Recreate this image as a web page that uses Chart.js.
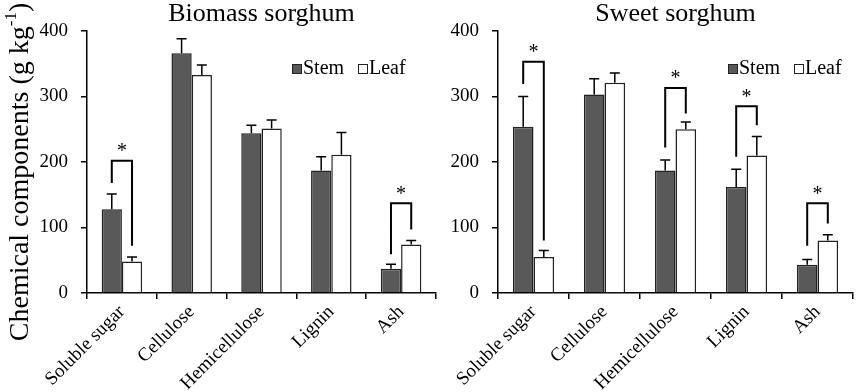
<!DOCTYPE html>
<html>
<head>
<meta charset="utf-8">
<script src="https://cdn.jsdelivr.net/npm/chart.js@4.4.0/dist/chart.umd.min.js"></script>
<style>
  body { margin: 0; background: #fff; }
  #wrap { position: relative; width: 856px; height: 392px; }
  #leftBox { position: absolute; left: 0; top: 0; width: 440px; height: 392px; }
  #rightBox { position: absolute; left: 440px; top: 0; width: 416px; height: 392px; }
</style>
</head>
<body>
<div id="wrap">
  <div id="leftBox"><canvas id="biomassChart"></canvas></div>
  <div id="rightBox"><canvas id="sweetChart"></canvas></div>
</div>
<script>
var categories = ['Soluble sugar', 'Cellulose', 'Hemicellulose', 'Lignin', 'Ash'];
var yTicks = [0, 100, 200, 300, 400];

// Biomass sorghum
var biomassStem = [128, 366, 244, 187, 37];
var biomassStemErr = [23, 22, 12, 21, 7];
var biomassLeaf = [48, 333, 251, 211, 74];
var biomassLeafErr = [7, 15, 13, 34, 6];
var biomassSigCats = [0, 4];
var biomassSigTop = [202, 137];
var biomassSigStemEnd = [168, 59];
var biomassSigLeafEnd = [72, 97];

// Sweet sorghum
var sweetStem = [254, 303, 187, 162, 43];
var sweetStemErr = [46, 24, 16, 27, 8];
var sweetLeaf = [55, 321, 250, 210, 80];
var sweetLeafErr = [10, 15, 11, 29, 9];
var sweetSigCats = [0, 2, 3, 4];
var sweetSigTop = [353, 313, 285, 137];
var sweetSigStemEnd = [319, 222, 208, 72];
var sweetSigLeafEnd = [80, 274, 256, 106];

var serif = '"Liberation Serif", "Times New Roman", serif';

// error bars, brackets, legend, titles
var extrasPlugin = {
    id: 'extras',
    afterDatasetsDraw: function (chart, args, opts) {
        var ctx = chart.ctx;
        var y = chart.scales.y;
        var area = chart.chartArea;
        ctx.save();
        ctx.strokeStyle = '#000';
        ctx.lineWidth = 1.5;
        // error bars (upper)
        for (var d = 0; d < 2; d++) {
            var meta = chart.getDatasetMeta(d);
            var errs = opts.errors[d];
            meta.data.forEach(function (bar, i) {
                var v = chart.data.datasets[d].data[i];
                var y0 = y.getPixelForValue(v);
                var y1 = y.getPixelForValue(v + errs[i]);
                ctx.beginPath();
                ctx.moveTo(bar.x, y0);
                ctx.lineTo(bar.x, y1);
                ctx.moveTo(bar.x - 5, y1);
                ctx.lineTo(bar.x + 5, y1);
                ctx.stroke();
            });
        }
        // significance brackets
        var stemMeta = chart.getDatasetMeta(0);
        var leafMeta = chart.getDatasetMeta(1);
        ctx.lineWidth = 2;
        ctx.fillStyle = '#000';
        ctx.font = '20px ' + serif;
        ctx.textAlign = 'center';
        ctx.textBaseline = 'middle';
        opts.sig.cats.forEach(function (c, k) {
            var xs = stemMeta.data[c].x;
            var xl = leafMeta.data[c].x;
            var yt = y.getPixelForValue(opts.sig.top[k]);
            ctx.beginPath();
            ctx.moveTo(xs, y.getPixelForValue(opts.sig.stemEnd[k]));
            ctx.lineTo(xs, yt);
            ctx.lineTo(xl, yt);
            ctx.lineTo(xl, y.getPixelForValue(opts.sig.leafEnd[k]));
            ctx.stroke();
            ctx.fillText('*', (xs + xl) / 2, yt - 9);
        });
        // title over the plot area
        ctx.font = '26px ' + serif;
        ctx.textBaseline = 'alphabetic';
        ctx.fillText(opts.title, (area.left + area.right) / 2, 21);
        // legend
        var lx = opts.legendX, ly = opts.legendY;
        ctx.lineWidth = 1;
        ctx.textAlign = 'left';
        ctx.textBaseline = 'middle';
        ctx.font = '20px ' + serif;
        ctx.fillStyle = '#595959';
        ctx.fillRect(lx, ly - 5, 9, 9);
        ctx.strokeStyle = '#222';
        ctx.strokeRect(lx + 0.5, ly - 4.5, 9, 9);
        ctx.fillStyle = '#000';
        ctx.fillText('Stem', lx + 11, ly);
        var lx2 = lx + 66;
        ctx.fillStyle = '#fff';
        ctx.fillRect(lx2, ly - 5, 9, 9);
        ctx.strokeRect(lx2 + 0.5, ly - 4.5, 9, 9);
        ctx.fillStyle = '#000';
        ctx.fillText('Leaf', lx2 + 11, ly);
        // y axis title
        if (opts.yTitle) {
            ctx.translate(19, 172);
            ctx.rotate(-Math.PI / 2);
            ctx.font = '28px ' + serif;
            var main = 'Chemical components (g kg';
            var sup = '-1';
            var wMain = ctx.measureText(main).width;
            ctx.font = '17px ' + serif;
            var wSup = ctx.measureText(sup).width;
            ctx.font = '28px ' + serif;
            var wEnd = ctx.measureText(')').width;
            var total = wMain + wSup + wEnd;
            var sx = -total / 2;
            ctx.textBaseline = 'alphabetic';
            ctx.fillText(main, sx, 9);
            ctx.font = '17px ' + serif;
            ctx.fillText(sup, sx + wMain, -3);
            ctx.font = '28px ' + serif;
            ctx.fillText(')', sx + wMain + wSup, 9);
        }
        ctx.restore();
    }
};

function makeChart(id, title, stem, stemErr, leaf, leafErr, sig, axisW, padRight, legendX, yTitle) {
    var ctx = document.getElementById(id);
    return new Chart(ctx, {
        type: 'bar',
        data: {
            labels: categories,
            datasets: [{
                label: 'Stem',
                data: stem,
                backgroundColor: '#595959',
                borderColor: '#222',
                borderWidth: 1.5,
                categoryPercentage: 0.58,
                barPercentage: 1.0
            }, {
                label: 'Leaf',
                data: leaf,
                backgroundColor: '#fff',
                borderColor: '#222',
                borderWidth: 1.5,
                categoryPercentage: 0.58,
                barPercentage: 1.0
            }]
        },
        options: {
            responsive: true,
            maintainAspectRatio: false,
            animation: false,
            layout: { padding: { left: 0, right: padRight, top: 31, bottom: 0 } },
            plugins: {
                legend: { display: false },
                tooltip: { enabled: false },
                title: { display: false },
                extras: {
                    title: title,
                    errors: [stemErr, leafErr],
                    sig: sig,
                    legendX: legendX,
                    legendY: 69,
                    yTitle: yTitle
                }
            },
            scales: {
                x: {
                    grid: { display: true, drawOnChartArea: false, offset: true, color: '#000', tickLength: 6, lineWidth: 1.5 },
                    border: { color: '#000', width: 1.5 },
                    ticks: {
                        color: '#000',
                        font: { family: serif, size: 19 },
                        minRotation: 45,
                        maxRotation: 45,
                        padding: 2
                    },
                    afterFit: function (scale) { scale.height = 99; }
                },
                y: {
                    min: 0,
                    max: 400,
                    afterBuildTicks: function (scale) {
                        scale.ticks = yTicks.map(function (v) { return { value: v }; });
                    },
                    grid: { display: true, drawOnChartArea: false, color: '#000', tickLength: 6, lineWidth: 1.5 },
                    border: { color: '#000', width: 1.5 },
                    ticks: {
                        color: '#000',
                        font: { family: serif, size: 19 },
                        padding: 13
                    },
                    afterFit: function (scale) { scale.width = axisW; }
                }
            }
        },
        plugins: [extrasPlugin]
    });
}

makeChart('biomassChart', 'Biomass sorghum', biomassStem, biomassStemErr, biomassLeaf, biomassLeafErr,
    { cats: biomassSigCats, top: biomassSigTop, stemEnd: biomassSigStemEnd, leafEnd: biomassSigLeafEnd },
    87, 4, 292, true);
makeChart('sweetChart', 'Sweet sorghum', sweetStem, sweetStemErr, sweetLeaf, sweetLeafErr,
    { cats: sweetSigCats, top: sweetSigTop, stemEnd: sweetSigStemEnd, leafEnd: sweetSigLeafEnd },
    58, 3, 288, false);
</script>
</body>
</html>
